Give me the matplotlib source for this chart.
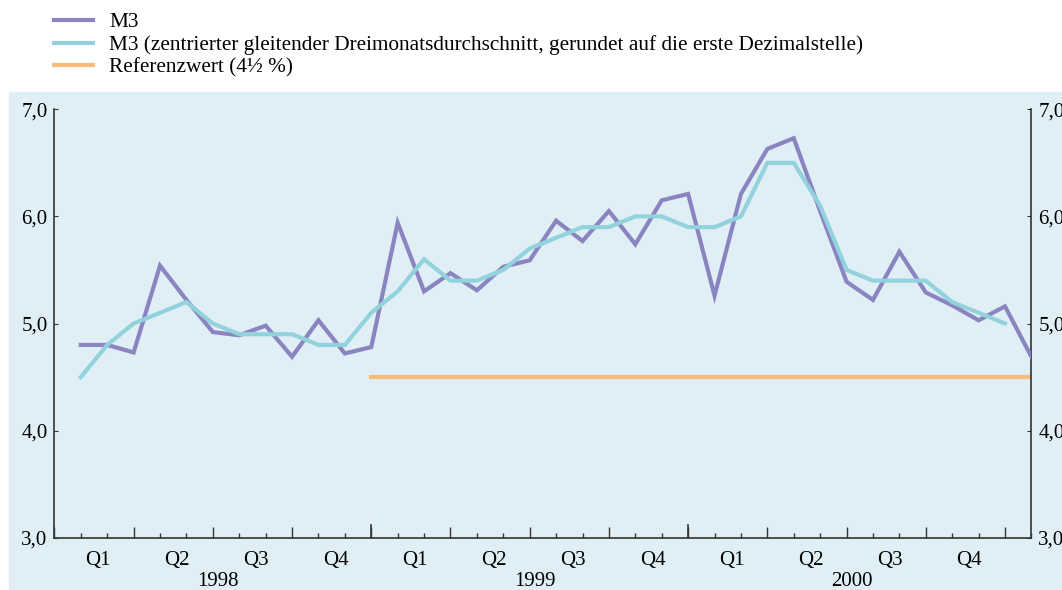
import numpy as np
import matplotlib
matplotlib.use("Agg")
import matplotlib.pyplot as plt
from matplotlib.patches import Rectangle
from matplotlib.lines import Line2D

plt.rcParams["font.family"] = ["Liberation Serif", "DejaVu Serif"]
plt.rcParams["font.size"] = 15

# Monatswerte Jan 1998 - Jan 2001 (Jahreswachstumsraten in %)
months = ["1998-01", "1998-02", "1998-03", "1998-04", "1998-05", "1998-06",
          "1998-07", "1998-08", "1998-09", "1998-10", "1998-11", "1998-12",
          "1999-01", "1999-02", "1999-03", "1999-04", "1999-05", "1999-06",
          "1999-07", "1999-08", "1999-09", "1999-10", "1999-11", "1999-12",
          "2000-01", "2000-02", "2000-03", "2000-04", "2000-05", "2000-06",
          "2000-07", "2000-08", "2000-09", "2000-10", "2000-11", "2000-12",
          "2001-01"]
m3 = [4.80, 4.80, 4.73, 5.54, 5.22, 4.92, 4.89, 4.98, 4.69, 5.03, 4.72, 4.78,
      5.94, 5.30, 5.47, 5.31, 5.53, 5.59, 5.96, 5.77, 6.05, 5.74, 6.15, 6.21,
      5.26, 6.21, 6.63, 6.73, 6.05, 5.39, 5.22, 5.67, 5.29, 5.17, 5.03, 5.16,
      4.69]
m3_avg = [4.5, 4.8, 5.0, 5.1, 5.2, 5.0, 4.9, 4.9, 4.9, 4.8, 4.8, 5.1,
          5.3, 5.6, 5.4, 5.4, 5.5, 5.7, 5.8, 5.9, 5.9, 6.0, 6.0, 5.9,
          5.9, 6.0, 6.5, 6.5, 6.1, 5.5, 5.4, 5.4, 5.4, 5.2, 5.1, 5.0]
ref_value = 4.5
ref_start = "1998-12"

quarters = ["Q1", "Q2", "Q3", "Q4"]
years = ["1998", "1999", "2000"]

c_m3 = "#8a85c0"
c_avg = "#92d2dc"
c_ref = "#f8bb7b"
c_bg = "#e0eff5"
c_axis = "#333333"

x = np.arange(1, len(months) + 1)
x_avg = x[:len(m3_avg)]
i0 = months.index(ref_start)
x_ref = x[i0:]

fig = plt.figure(figsize=(10.62, 5.90), dpi=100)
fig.patches.append(Rectangle((9 / 1062, 0), 1, (590 - 92) / 590,
                             transform=fig.transFigure, color=c_bg, zorder=-10))
ax = fig.add_axes([54.4 / 1062, 1 - 537.7 / 590, 977 / 1062, 428.4 / 590])
ax.set_facecolor("none")

ax.plot(x, m3, color=c_m3, lw=3, solid_joinstyle="miter", zorder=3)
ax.plot(x_avg, m3_avg, color=c_avg, lw=3, solid_joinstyle="miter", zorder=4)
ax.plot(x_ref, [ref_value] * len(x_ref), color=c_ref, lw=3, zorder=2)

ax.set_xlim(0, len(months))
ax.set_ylim(3, 7)
ax.set_yticks([3, 4, 5, 6, 7])
ax.set_yticklabels(["3,0", "4,0", "5,0", "6,0", "7,0"])

for s in ["left", "right", "bottom"]:
    ax.spines[s].set_color(c_axis)
    ax.spines[s].set_linewidth(1.2)
ax.spines["top"].set_visible(False)

ax.tick_params(axis="y", direction="in", length=3, left=True, right=True,
               labelleft=True, labelright=True, pad=5, colors=c_axis,
               labelcolor="black")
ax.set_xticks(np.arange(0, len(months) + 1, 3))
ax.set_xticks(np.arange(0, len(months) + 1), minor=True)
ax.tick_params(axis="x", which="major", direction="in", length=8, width=1,
               labelbottom=False, colors=c_axis)
ax.tick_params(axis="x", which="minor", direction="in", length=3.5, width=1,
               colors=c_axis)

# Jahresstriche
for k in range(1, len(years)):
    ax.axvline(12 * k, ymin=0, ymax=13 / 428.4, color=c_axis, lw=1.2)

for k, yr in enumerate(years):
    for q, ql in enumerate(quarters):
        ax.annotate(ql, xy=(12 * k + 3 * q + 1.65, 0),
                    xycoords=("data", "axes fraction"),
                    xytext=(0, -16.5), textcoords="offset points",
                    ha="center", va="center")
    ax.annotate(yr, xy=(12 * k + 6.2, 0), xycoords=("data", "axes fraction"),
                xytext=(0, -34.5), textcoords="offset points",
                ha="center", va="baseline")

handles = [Line2D([], [], color=c_m3, lw=3),
           Line2D([], [], color=c_avg, lw=3),
           Line2D([], [], color=c_ref, lw=3)]
labels = ["M3",
          "M3 (zentrierter gleitender Dreimonatsdurchschnitt, gerundet auf die erste Dezimalstelle)",
          "Referenzwert (4½ %)"]
fig.legend(handles, labels, loc="center left", bbox_to_anchor=(54 / 1062, 1 - 45 / 590),
           frameon=False, handlelength=1.85, handletextpad=0.75, labelspacing=0.12,
           borderpad=0, borderaxespad=0, fontsize=15.3)

fig.savefig("out.png", dpi=100)
